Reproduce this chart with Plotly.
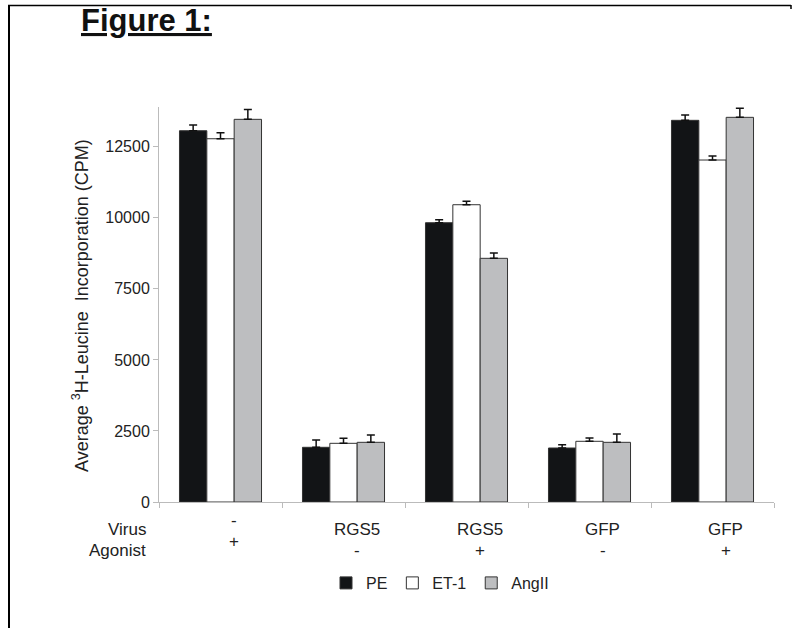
import plotly.graph_objects as go

# ---- data ----
groups = ["G1", "G2", "G3", "G4", "G5"]
virus_labels = ["-", "RGS5", "RGS5", "GFP", "GFP"]
agonist_labels = ["+", "-", "+", "-", "+"]
series_names = ["PE", "ET-1", "AngII"]
pe_values = [13065, 1925, 9828, 1900, 13431]
et1_values = [12783, 2065, 10461, 2136, 12034]
ang_values = [13466, 2100, 8575, 2100, 13536]
pe_err = [200, 257, 100, 116, 186]
et1_err = [210, 175, 120, 116, 140]
ang_err = [350, 257, 186, 293, 317]
y_ticks = [0, 2500, 5000, 7500, 10000, 12500]
y_tick_text = ["0", "2500", "5000", "7500", "10000", "12500"]

colors = ["#121416", "#ffffff", "#bdbec0"]
FONT = "Liberation Sans, Arial, sans-serif"
TXT = "#222222"

fig = go.Figure()
for name, vals, errs, col in zip(series_names, [pe_values, et1_values, ang_values],
                                 [pe_err, et1_err, ang_err], colors):
    fig.add_trace(go.Bar(
        x=groups, y=vals, name=name,
        marker=dict(color=col, line=dict(color="#333333", width=1)),
        error_y=dict(type="data", array=errs, arrayminus=[0] * len(errs),
                     symmetric=False, color="#111111", thickness=1.5, width=4),
    ))

# plot area geometry in px
L, R, T, B = 159, 18, 107, 126
W, H = 792, 628
pw = W - L - R
ph = H - T - B

def px_x(px):
    return (px - L) / pw

def px_y(py):
    return (H - B - py) / ph

annotations = []
annotations.append(dict(text="Virus", xref="paper", yref="paper", x=px_x(148), y=px_y(529),
                        xanchor="right", yanchor="middle", showarrow=False,
                        font=dict(size=17, color=TXT, family=FONT)))
annotations.append(dict(text="Agonist", xref="paper", yref="paper", x=px_x(148), y=px_y(550),
                        xanchor="right", yanchor="middle", showarrow=False,
                        font=dict(size=17, color=TXT, family=FONT)))
for i, (g, v, a) in enumerate(zip(groups, virus_labels, agonist_labels)):
    y1, y2 = (520, 541) if i == 0 else (529, 550)
    annotations.append(dict(text=v, xref="x", yref="paper", x=g, y=px_y(y1), xshift=13,
                            xanchor="center", yanchor="middle", showarrow=False,
                            font=dict(size=17, color=TXT, family=FONT)))
    annotations.append(dict(text=a, xref="x", yref="paper", x=g, y=px_y(y2), xshift=13,
                            xanchor="center", yanchor="middle", showarrow=False,
                            font=dict(size=17, color=TXT, family=FONT)))
annotations.append(dict(text="Average <sup>3</sup>H-Leucine  Incorporation (CPM)",
                        xref="paper", yref="paper", x=px_x(80), y=px_y(306),
                        xanchor="center", yanchor="middle", textangle=-90, showarrow=False,
                        font=dict(size=18, color=TXT, family=FONT)))
annotations.append(dict(text="<b><u>Figure 1:</u></b>", xref="paper", yref="paper",
                        x=px_x(79), y=px_y(21), xanchor="left", yanchor="middle",
                        showarrow=False, font=dict(size=31, color="#111111", family=FONT)))

shapes = [
    dict(type="line", xref="paper", yref="paper", x0=px_x(9), x1=px_x(9),
         y0=px_y(5), y1=px_y(630), line=dict(color="#000000", width=2)),
    dict(type="line", xref="paper", yref="paper", x0=px_x(8), x1=px_x(791),
         y0=px_y(5.5), y1=px_y(5.5), line=dict(color="#000000", width=1.5)),
    dict(type="line", xref="paper", yref="paper", x0=px_x(791), x1=px_x(791),
         y0=px_y(5), y1=px_y(9), line=dict(color="#000000", width=1.5)),
]

fig.update_layout(
    width=W, height=H,
    margin=dict(l=L, r=R, t=T, b=B, autoexpand=False),
    paper_bgcolor="white", plot_bgcolor="white",
    barmode="group", bargap=0.333, bargroupgap=0,
    font=dict(family=FONT, color=TXT, size=16),
    showlegend=True,
    legend=dict(orientation="h", x=px_x(440), y=px_y(583), xanchor="center", yanchor="middle",
                font=dict(size=16, color=TXT, family=FONT), itemwidth=30,
                bgcolor="rgba(0,0,0,0)", traceorder="normal"),
    annotations=annotations,
    shapes=shapes,
    xaxis=dict(showticklabels=False, tickson="boundaries", ticks="outside", ticklen=5,
               tickcolor="#bbbbbb", showline=True, linecolor="#bbbbbb", linewidth=1,
               showgrid=False, zeroline=False, fixedrange=True),
    yaxis=dict(range=[0, 13900], tickvals=y_ticks, ticktext=y_tick_text, ticks="outside",
               ticklen=5, tickcolor="#bbbbbb", showline=True, linecolor="#bbbbbb", linewidth=1,
               showgrid=False, zeroline=False, tickfont=dict(size=16, color=TXT, family=FONT)),
)

fig.write_html("out.html", config={"displayModeBar": False},
               post_script="document.body.style.margin='0';document.body.style.overflow='hidden';")
